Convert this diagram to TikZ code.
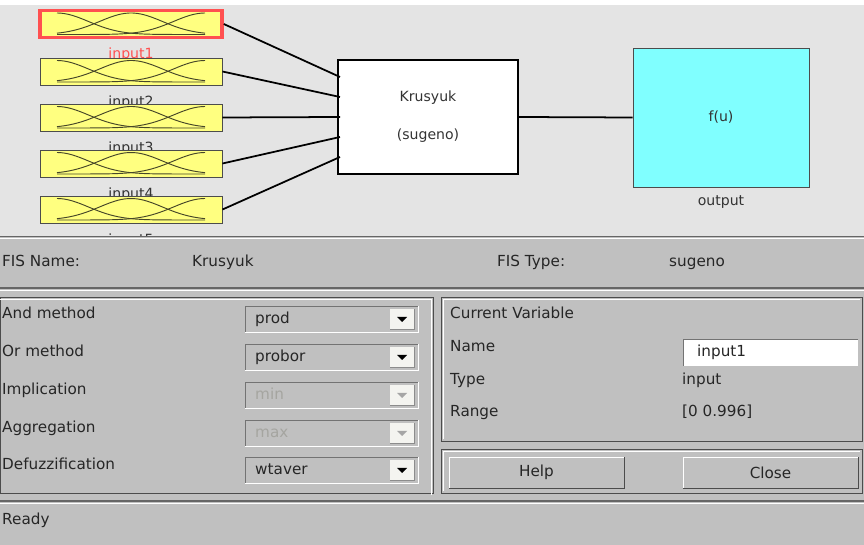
\documentclass[tikz,border=0pt]{standalone}
\usepackage{fontspec}
\setmainfont{DejaVu Sans}
\usepackage{xcolor}
\usetikzlibrary{positioning}
\definecolor{topgray}{RGB}{228,228,228}
\definecolor{panelgray}{RGB}{192,192,192}
\definecolor{mfyellow}{RGB}{255,255,128}
\definecolor{outcyan}{RGB}{128,255,255}
\definecolor{selred}{RGB}{255,80,80}
\definecolor{mfline}{RGB}{70,70,40}
\definecolor{dimtext}{RGB}{165,165,160}
\definecolor{btnwhite}{RGB}{244,244,240}

\begin{document}
\begin{tikzpicture}[x=0.03cm,y=-0.03cm,
txt/.style={font=\fontsize{13}{15}\selectfont,inner sep=0pt,anchor=base west,text=black!85},
lbl/.style={font=\fontsize{12}{14}\selectfont,inner sep=0pt,text=black!80},
mfbox/.style={draw=black!70,line width=0.8pt,fill=mfyellow,minimum width=5.46cm,minimum height=0.81cm,inner sep=0pt},
mfsel/.style={mfbox,draw=selred,line width=3pt},
conn/.style={line width=1.5pt,black},
mfcurve/.style={mfline,line width=0.8pt},
etch/.style={black!70,line width=0.8pt}]

\useasboundingbox (0,0) rectangle (864,545);
\fill[white] (0,0) rectangle (864,545);
\fill[topgray] (0,5) rectangle (864,236);

\foreach \i/\Y/\c in {1/24/selred,2/71.5/black!80,3/117.5/black!80,4/163.5/black!80,5/209.5/black!80}{
\node[lbl,text=\c] (lab\i) at (131,\Y+31) {input\i};
}

\foreach \i/\Y/\st in {1/24/mfsel,2/71.5/mfbox,3/117.5/mfbox,4/163.5/mfbox,5/209.5/mfbox}{
\pgfmathsetmacro{\Yt}{\Y-11}
\pgfmathsetmacro{\Yb}{\Y+10.5}
\node[\st] (in\i) at (131,\Y) {};
\foreach \c in {57,131,205}{
\draw[mfcurve] plot[domain=57:205,samples=40,smooth] (\x,{\Yb-(\Yb-\Yt)*exp(-0.5*((\x-\c)/31.4)^2)});
}
}

\node[draw=black,line width=1.2pt,fill=white,minimum width=5.4cm,minimum height=3.42cm] (fis) at (428,117) {};
\node[lbl] (fisname) at (428,98) {Krusyuk};
\node[lbl] (fistype) at (428,136) {(sugeno)};

\node[draw=black!70,line width=0.8pt,fill=outcyan,minimum width=5.28cm,minimum height=4.17cm] (out) at (721,117.5) {};
\node[lbl] (fu) at (721,117) {f(u)};
\node[lbl] (outlab) at (721,202) {output};

\foreach \i in {1,...,5}{
\coordinate (e\i) at (340,57+20*\i);
\draw[conn] (in\i.east) -- (e\i);
}
\draw[conn] (fis.east) -- (out.west);

\fill[panelgray] (0,236) rectangle (864,545);
\draw[black!60,line width=1pt] (0,236.5) -- (864,236.5);
\draw[white,line width=0.6pt] (0,238.5) -- (864,238.5);
\draw[black!60,line width=1pt] (0,288) -- (864,288);
\draw[white,line width=0.6pt] (0,290) -- (864,290);
\draw[black!60,line width=1pt] (0,501) -- (864,501);
\draw[white,line width=0.6pt] (0,503) -- (864,503);

\node[txt] (fisnamelab) at (2,267) {FIS Name:};
\node[txt] (fisnameval) at (192,267) {Krusyuk};
\node[txt] (fistypelab) at (497,267) {FIS Type:};
\node[txt] (fistypeval) at (669,267) {sugeno};

\draw[etch] (0,297) rectangle (433,493);
\draw[white,line width=0.6pt] (0,299) -| (431,495);
\draw[etch] (441,297) rectangle (862,441);
\draw[white,line width=0.6pt] (443,439) |- (860,299);
\draw[etch] (441,449) rectangle (862,493);
\draw[white,line width=0.6pt] (443,491) |- (860,451);

\foreach \Y/\lab/\val/\col/\arr [count=\n] in {319/And method/prod/black!85/black,357/Or method/probor/black!85/black,395/Implication/min/dimtext/black!35,433/Aggregation/max/dimtext/black!35,470/Defuzzification/wtaver/black!85/black}{
\node[txt] (meth\n) at (2,\Y) {\lab};
\draw[black!55,line width=0.8pt] (245,\Y+13) -- (245,\Y-13) -- (418,\Y-13);
\draw[white,line width=0.8pt] (245,\Y+13) -- (418,\Y+13) -- (418,\Y-13);
\fill[btnwhite] (390,\Y-10) rectangle (414,\Y+10);
\draw[black!45,line width=0.6pt] (390,\Y+10) -- (414,\Y+10) -- (414,\Y-10);
\fill[\arr] (397,\Y-2) -- (407,\Y-2) -- (402,\Y+3) -- cycle;
\node[txt,text=\col] (val\n) at (255,\Y+5) {\val};
}

\node[txt] (curvar) at (450,319) {Current Variable};
\node[txt] (namelab) at (450,352) {Name};
\node[txt] (typelab) at (450,385) {Type};
\node[txt] (rangelab) at (450,417) {Range};
\fill[white] (683,339) rectangle (858,366);
\draw[black!55,line width=0.8pt] (683,366) -- (683,339) -- (858,339);
\node[txt] (nameval) at (697,357) {input1};
\node[txt] (typeval) at (682,385) {input};
\node[txt] (rangeval) at (682,417) {[0 0.996]};

\foreach \xa/\xb/\t/\nm in {449/624/Help/help,683/858/Close/close}{
\draw[black!70,line width=0.8pt] (\xa,488) -- (\xb,488) -- (\xb,457);
\draw[white,line width=0.8pt] (\xa,488) -- (\xa,457) -- (\xb,457);
\node[font=\fontsize{13}{15}\selectfont,inner sep=0pt,text=black!85] (\nm) at ({(\xa+\xb)/2},472.5) {\t};
}

\node[txt] (status) at (2,525) {Ready};

\end{tikzpicture}
\end{document}
